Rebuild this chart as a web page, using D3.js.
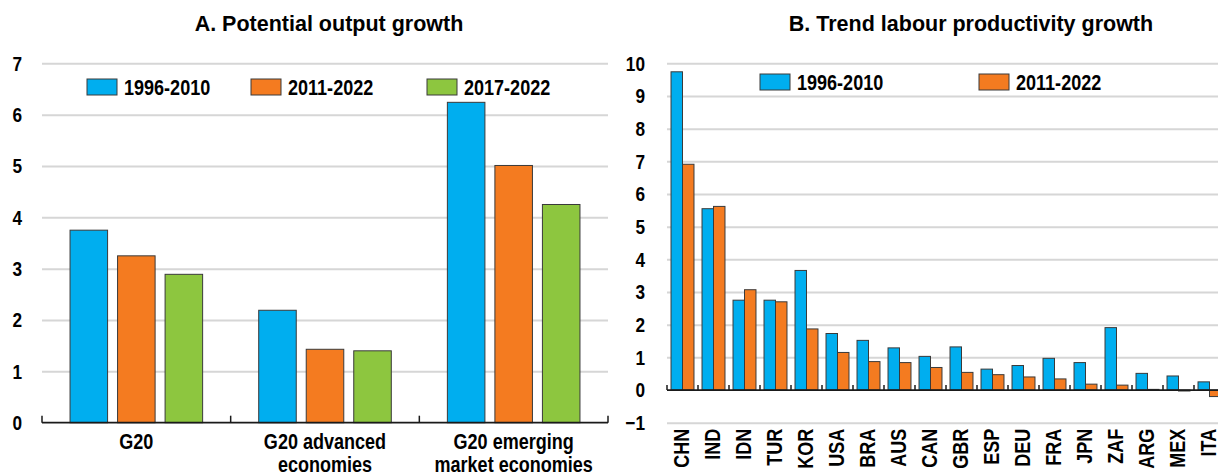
<!DOCTYPE html>
<html>
<head>
<meta charset="utf-8">
<script src="https://cdn.jsdelivr.net/npm/d3@7"></script>
<style>
  html, body { margin: 0; padding: 0; background: #fff; }
  svg { display: block; font-family: "Liberation Sans", Arial, sans-serif; font-weight: bold; }
</style>
</head>
<body>
<svg id="chart" width="1218" height="474"></svg>
<script>
// ---- Panel A: potential output growth ----
const groupsA = ["G20", "G20 advanced economies", "G20 emerging market economies"];
const groupLinesA = [["G20"], ["G20 advanced", "economies"], ["G20 emerging", "market economies"]];
const seriesA = ["1996-2010", "2011-2022", "2017-2022"];
const growth1996A = [3.75, 2.19, 6.24];
const growth2011A = [3.25, 1.43, 5.01];
const growth2017A = [2.89, 1.40, 4.25];
const ticksA = [0, 1, 2, 3, 4, 5, 6, 7];

// ---- Panel B: trend labour productivity growth ----
const countriesB = ["CHN", "IND", "IDN", "TUR", "KOR", "USA", "BRA", "AUS", "CAN",
                    "GBR", "ESP", "DEU", "FRA", "JPN", "ZAF", "ARG", "MEX", "ITA"];
const seriesB = ["1996-2010", "2011-2022"];
const prod1996B = [9.74, 5.55, 2.75, 2.75, 3.66, 1.73, 1.52, 1.29, 1.03,
                   1.32, 0.64, 0.75, 0.97, 0.84, 1.91, 0.51, 0.43, 0.25];
const prod2011B = [6.91, 5.62, 3.07, 2.70, 1.87, 1.15, 0.87, 0.84, 0.69,
                   0.54, 0.47, 0.40, 0.34, 0.18, 0.15, 0.02, -0.03, -0.20];
const ticksB = [-1, 0, 1, 2, 3, 4, 5, 6, 7, 8, 9, 10];

const COLORS = ["#00aeef", "#f47b20", "#8dc63f"];
const NARROW = 0.82;      // horizontal squeeze giving a condensed bold face
const GRID = "#d6d6d6";
const BAR_STROKE = "#3a3a3a";
const TICK_FONT = 21;

const svg = d3.select("#chart");

// condensed text placed at (x, y), optionally rotated
function narrowText(parent, x, y, str, size, anchor, rotate) {
  const g = parent.append("g")
    .attr("transform", `translate(${x},${y})` + (rotate ? ` rotate(${rotate})` : ""));
  return g.append("text")
    .attr("transform", `scale(${NARROW},1)`)
    .attr("text-anchor", anchor || "start")
    .attr("font-size", size)
    .attr("fill", "#000")
    .text(str);
}

function styleTickText(ax) {
  ax.selectAll(".tick text")
    .attr("font-size", TICK_FONT)
    .attr("font-family", "Liberation Sans, Arial, sans-serif")
    .attr("font-weight", "bold")
    .attr("fill", "#000")
    .each(function () {
      const t = d3.select(this);
      t.attr("x", +t.attr("x") / NARROW).attr("transform", `scale(${NARROW},1)`);
    });
}

// value axis: grey gridlines for every tick except zero, label for every tick
function yAxisGrid(g, y, ticks, left, right, pad) {
  const grid = g.append("g")
    .attr("transform", `translate(${left},0)`)
    .call(d3.axisLeft(y).tickValues(ticks.filter(d => d !== 0))
      .tickSize(-(right - left)).tickFormat(""));
  grid.select(".domain").remove();
  grid.selectAll(".tick line").attr("stroke", GRID).attr("stroke-width", 2);

  const labels = g.append("g")
    .attr("transform", `translate(${left},0)`)
    .call(d3.axisLeft(y).tickValues(ticks).tickFormat(d3.format("d"))
      .tickSize(0).tickPadding(pad));
  labels.select(".domain").remove();
  styleTickText(labels);
}

function zeroAxis(g, x, y0, tickLen) {
  const [a, b] = x.range();
  g.append("line").attr("x1", a).attr("x2", b).attr("y1", y0).attr("y2", y0)
    .attr("stroke", "#1a1a1a").attr("stroke-width", 1.8);
  const bounds = x.domain().map(d => x(d) - x.step() * x.paddingOuter()).concat([b]);
  g.selectAll(null).data(bounds).enter().append("line")
    .attr("x1", d => d).attr("x2", d => d)
    .attr("y1", y0).attr("y2", y0 - tickLen)
    .attr("stroke", "#1a1a1a").attr("stroke-width", 1.5);
}

function legend(g, items, x0s, y, colors) {
  items.forEach((name, i) => {
    g.append("rect").attr("x", x0s[i]).attr("y", y - 8).attr("width", 30).attr("height", 16)
      .attr("fill", colors[i]).attr("stroke", BAR_STROKE).attr("stroke-width", 1);
    narrowText(g, x0s[i] + 37, y + 8, name, 22, "start");
  });
}

// ================= Panel A =================
{
  const left = 42, right = 608, top = 63.3, bottom = 422.7;
  const g = svg.append("g");
  g.append("text").attr("x", 329).attr("y", 31).attr("text-anchor", "middle")
    .attr("font-size", 21.5).attr("fill", "#000").text("A. Potential output growth");

  const y = d3.scaleLinear().domain([0, 7]).range([bottom, top]);
  const x = d3.scaleBand().domain(groupsA).range([left, right]).paddingInner(0).paddingOuter(0);
  const xs = d3.scaleBand().domain(seriesA).range([0, x.bandwidth()]).paddingInner(0.21).paddingOuter(0.59);

  yAxisGrid(g, y, ticksA, left, right, 20);

  const valsA = [growth1996A, growth2011A, growth2017A];
  seriesA.forEach((s, si) => {
    g.selectAll(null).data(groupsA).enter().append("rect")
      .attr("x", d => x(d) + xs(s))
      .attr("y", (d, i) => y(Math.max(0, valsA[si][i])))
      .attr("width", xs.bandwidth())
      .attr("height", (d, i) => Math.abs(y(valsA[si][i]) - y(0)))
      .attr("fill", COLORS[si]).attr("stroke", BAR_STROKE).attr("stroke-width", 1);
  });

  zeroAxis(g, x, y(0), 7);

  groupsA.forEach((d, i) => {
    groupLinesA[i].forEach((line, li) => {
      narrowText(g, x(d) + x.bandwidth() / 2, 449 + li * 23, line, 22, "middle");
    });
  });

  legend(g, seriesA, [87, 251, 427], 87, COLORS);
}

// ================= Panel B =================
{
  const left = 667, right = 667 + 18 * 31, top = 63.3, bottom = 422.7;
  const g = svg.append("g");
  g.append("text").attr("x", 971).attr("y", 31).attr("text-anchor", "middle")
    .attr("font-size", 21.5).attr("fill", "#000").text("B. Trend labour productivity growth");

  const y = d3.scaleLinear().domain([-1, 10]).range([bottom, top]);
  const x = d3.scaleBand().domain(countriesB).range([left, right]).paddingInner(0).paddingOuter(0);
  const xs = d3.scaleBand().domain(seriesB).range([0, x.bandwidth()]).paddingInner(0).paddingOuter(0.35);

  yAxisGrid(g, y, ticksB, left, right, 22);

  const valsB = [prod1996B, prod2011B];
  seriesB.forEach((s, si) => {
    g.selectAll(null).data(countriesB).enter().append("rect")
      .attr("x", d => x(d) + xs(s))
      .attr("y", (d, i) => y(Math.max(0, valsB[si][i])))
      .attr("width", xs.bandwidth())
      .attr("height", (d, i) => Math.abs(y(valsB[si][i]) - y(0)))
      .attr("fill", COLORS[si]).attr("stroke", BAR_STROKE).attr("stroke-width", 1);
  });

  zeroAxis(g, x, y(0), 5);

  countriesB.forEach(d => {
    narrowText(g, x(d) + x.bandwidth() / 2 + 6.5, bottom + 6, d, 22, "end", -90);
  });

  legend(g, seriesB, [760, 979], 82, COLORS);
}
</script>
</body>
</html>
